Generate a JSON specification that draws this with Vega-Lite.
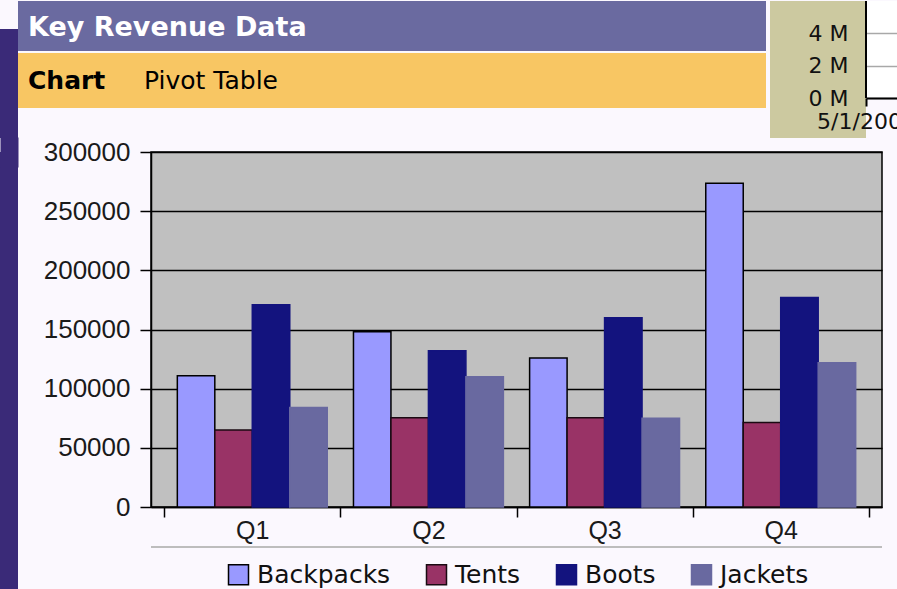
{
  "$schema": "https://vega.github.io/schema/vega-lite/v6.json",
  "background": "#FBF8FE",
  "padding": 0,
  "spacing": 0,
  "config": {
    "view": {"stroke": null},
    "concat": {"spacing": 0},
    "font": "Liberation Sans"
  },
  "datasets": {
    "revenue": [
      {"quarter": "Q1", "product": "Backpacks", "revenue": 111000},
      {"quarter": "Q1", "product": "Tents", "revenue": 65000},
      {"quarter": "Q1", "product": "Boots", "revenue": 171000},
      {"quarter": "Q1", "product": "Jackets", "revenue": 84000},
      {"quarter": "Q2", "product": "Backpacks", "revenue": 148000},
      {"quarter": "Q2", "product": "Tents", "revenue": 75500},
      {"quarter": "Q2", "product": "Boots", "revenue": 132000},
      {"quarter": "Q2", "product": "Jackets", "revenue": 110000},
      {"quarter": "Q3", "product": "Backpacks", "revenue": 126000},
      {"quarter": "Q3", "product": "Tents", "revenue": 75500},
      {"quarter": "Q3", "product": "Boots", "revenue": 160000},
      {"quarter": "Q3", "product": "Jackets", "revenue": 75000},
      {"quarter": "Q4", "product": "Backpacks", "revenue": 273500},
      {"quarter": "Q4", "product": "Tents", "revenue": 71500},
      {"quarter": "Q4", "product": "Boots", "revenue": 177000},
      {"quarter": "Q4", "product": "Jackets", "revenue": 122000}
    ],
    "inset": [{"date": "5/1/2002"}],
    "blank": [{}]
  },
  "resolve": {"scale": {"color": "independent", "stroke": "independent"}, "legend": {"color": "independent", "stroke": "independent"}},
  "vconcat": [
    {
      "spacing": 0,
      "hconcat": [
        {
          "spacing": 0,
          "vconcat": [
            {"width": 18, "height": 28, "data": {"name": "blank"}, "mark": {"type": "text", "text": ""}},
            {"width": 18, "height": 109, "view": {"fill": "#3A2A78"}, "data": {"name": "blank"}, "mark": {"type": "text", "text": ""}}
          ]
        },
        {
          "spacing": 2,
          "vconcat": [
            {
              "width": 748, "height": 50,
              "view": {"fill": "#6A6AA0"},
              "data": {"name": "blank"},
              "mark": {"type": "text", "text": ""},
              "title": {"text": "Key Revenue Data", "anchor": "start", "dx": 10, "offset": -62, "baseline": "alphabetic", "color": "#FFFFFF", "font": "DejaVu Sans", "fontSize": 27, "fontWeight": "bold"}
            },
            {
              "spacing": 0,
              "hconcat": [
                {
                  "width": 116, "height": 55,
                  "view": {"fill": "#F8C663"},
                  "data": {"name": "blank"},
                  "mark": {"type": "text", "text": ""},
                  "title": {"text": "Chart", "anchor": "start", "dx": 10, "offset": -61, "baseline": "alphabetic", "color": "#000000", "font": "DejaVu Sans", "fontSize": 25, "fontWeight": "bold"}
                },
                {
                  "width": 632, "height": 55,
                  "view": {"fill": "#F8C663"},
                  "data": {"name": "blank"},
                  "mark": {"type": "text", "text": ""},
                  "title": {"text": "Pivot Table", "anchor": "start", "dx": 10, "offset": -61, "baseline": "alphabetic", "color": "#000000", "font": "DejaVu Sans", "fontSize": 25, "fontWeight": "normal"}
                }
              ]
            }
          ]
        },
        {"width": 4, "height": 137, "data": {"name": "blank"}, "mark": {"type": "text", "text": ""}},
        {
          "spacing": 0,
          "bounds": "flush",
          "hconcat": [
            {"width": 96, "height": 137, "view": {"fill": "#CCC9A0"}, "data": {"name": "blank"}, "mark": {"type": "text", "text": ""}},
            {
              "width": 31, "height": 97,
              "view": {"fill": "#FFFFFF"},
              "data": {"name": "inset"},
              "mark": {"type": "rule", "color": "#000000", "strokeWidth": 2},
              "encoding": {
                "x": {
                  "field": "date", "type": "ordinal",
                  "scale": {"type": "point", "padding": 0, "align": 0},
                  "axis": {"title": null, "labelAngle": 0, "domainColor": "#000000", "domainWidth": 2, "tickColor": "#000000", "tickSize": 8, "tickWidth": 2, "labelFont": "DejaVu Sans", "labelFontSize": 22, "labelColor": "#111111", "labelPadding": 5}
                },
                "y": {
                  "datum": 0, "type": "quantitative",
                  "scale": {"domain": [0, 6000000], "nice": false},
                  "axis": {"title": null, "values": [0, 2000000, 4000000], "labelExpr": "datum.value / 1000000 + ' M'", "grid": true, "gridColor": "#A8A8A8", "gridWidth": 1.5, "domain": false, "ticks": false, "labelPadding": 18, "labelFont": "DejaVu Sans", "labelFontSize": 22, "labelColor": "#111111"}
                },
                "y2": {"datum": 6000000}
              }
            }
          ]
        }
      ]
    },
    {
      "spacing": 0,
      "resolve": {"scale": {"color": "independent", "stroke": "independent"}, "legend": {"color": "independent", "stroke": "independent"}},
      "hconcat": [
        {
          "width": 18, "height": 437,
          "view": {"fill": "#3A2A78"},
          "data": {"name": "blank"},
          "mark": {"type": "text", "text": ""},
          "encoding": {
            "x": {"datum": 0, "type": "quantitative", "scale": {"domain": [0, 1]}, "axis": {"orient": "top", "title": null, "labels": false, "ticks": false, "grid": false, "domainWidth": 30, "domainColor": "#3A2A78", "domainCap": "butt"}}
          }
        },
        {
          "width": 731, "height": 355,
          "view": {"fill": "#C0C0C0", "stroke": "#000000", "strokeWidth": 1.5},
          "layer": [
            {
              "data": {"name": "revenue"},
              "mark": {"type": "bar", "strokeWidth": 1.5},
              "encoding": {
                "x": {
                  "field": "quarter", "type": "nominal",
                  "scale": {"paddingInner": 0, "paddingOuter": 0.075},
                  "axis": {"title": null, "labelAngle": 0, "tickBand": "extent", "tickSize": 10, "tickWidth": 1.5, "tickColor": "#000000", "domainColor": "#000000", "domainWidth": 1.5, "labelFont": "Liberation Sans", "labelFontSize": 25, "labelColor": "#1A1A1A", "labelPadding": 1}
                },
                "xOffset": {
                  "field": "product", "type": "nominal",
                  "sort": ["Backpacks", "Tents", "Boots", "Jackets"],
                  "scale": {"paddingInner": 0, "paddingOuter": 0.35}
                },
                "y": {
                  "field": "revenue", "type": "quantitative",
                  "scale": {"domain": [0, 300000], "nice": false},
                  "axis": {"title": null, "values": [0, 50000, 100000, 150000, 200000, 250000, 300000], "format": "d", "grid": true, "gridColor": "#000000", "gridWidth": 1.5, "domainColor": "#000000", "domainWidth": 1.5, "tickColor": "#000000", "tickSize": 11, "tickWidth": 1.5, "labelFont": "Liberation Sans", "labelFontSize": 26, "labelColor": "#1A1A1A", "labelPadding": 10, "minExtent": 132}
                },
                "color": {
                  "field": "product", "type": "nominal",
                  "sort": ["Backpacks", "Tents", "Boots", "Jackets"],
                  "scale": {"domain": ["Backpacks", "Tents", "Boots", "Jackets"], "range": ["#9999FF", "#993366", "#13137E", "#6969A0"]},
                  "legend": {"title": null, "orient": "none", "legendX": 75, "legendY": 410, "direction": "horizontal", "symbolType": "square", "symbolSize": 400, "symbolStrokeWidth": 1.5, "labelFont": "DejaVu Sans", "labelFontSize": 25, "labelColor": "#111111", "labelOffset": 6, "columnPadding": 32, "padding": 0}
                },
                "stroke": {
                  "field": "product", "type": "nominal",
                  "sort": ["Backpacks", "Tents", "Boots", "Jackets"],
                  "scale": {"domain": ["Backpacks", "Tents", "Boots", "Jackets"], "range": ["#000000", "#1A0A12", "#13137E", "#6969A0"]},
                  "legend": {"title": null, "orient": "none", "legendX": 75, "legendY": 410, "direction": "horizontal", "symbolType": "square", "symbolSize": 400, "symbolStrokeWidth": 1.5, "labelFont": "DejaVu Sans", "labelFontSize": 25, "labelColor": "#111111", "labelOffset": 6, "columnPadding": 32, "padding": 0}
                }
              }
            },
            {
              "data": {"name": "blank"},
              "mark": {"type": "rule", "color": "#BDBDBD", "strokeWidth": 2},
              "encoding": {"y": {"datum": -33800, "type": "quantitative", "scale": {"domain": [0, 300000], "nice": false}}}
            }
          ]
        }
      ]
    }
  ]
}
